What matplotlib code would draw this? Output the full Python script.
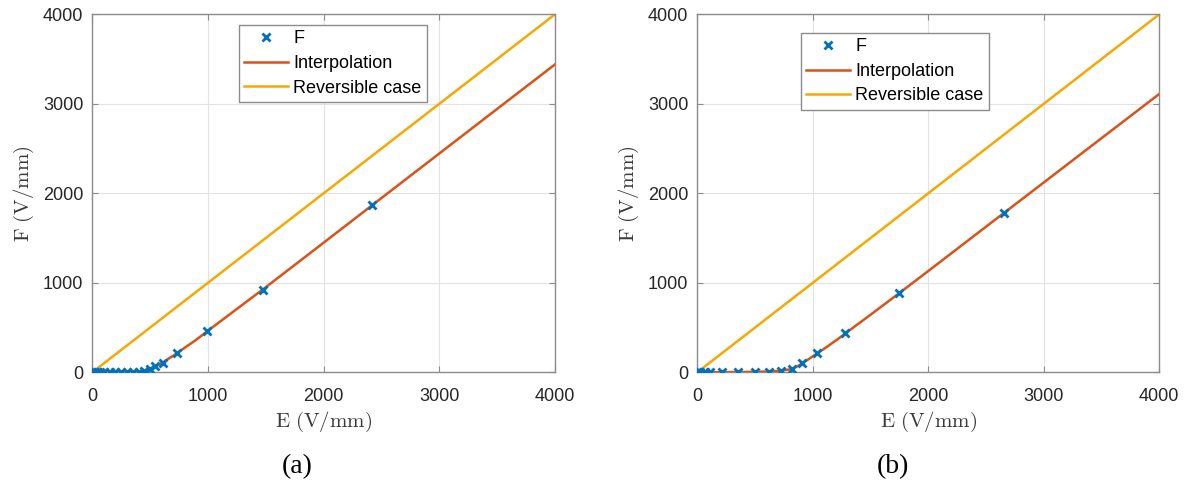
import matplotlib
matplotlib.use("Agg")
import matplotlib.pyplot as plt

plt.rcParams['mathtext.fontset'] = 'cm'
plt.rcParams['font.family'] = ['Liberation Sans', 'DejaVu Sans']

# ---- data: panel (a) ----
E_a = [0, 20, 40, 70, 100, 150, 200, 250, 300, 350, 400, 450, 500, 540, 607, 736, 991, 1474, 2422]
F_a = [0, 0, 0, 0, 0, 0, 0, 0, 0, 2, 5, 20, 40, 65, 108, 220, 456, 925, 1869]
Ei_a = [0, 200, 400, 450, 500, 550, 600, 650, 700, 750, 800, 900, 1000, 1500, 2000, 2500, 3000, 3500, 4000]
Fi_a = [0, 0, 3, 15, 40, 70, 103, 145, 185, 230, 275, 365, 465, 951, 1448, 1947, 2445, 2943, 3440]

# ---- data: panel (b) ----
E_b = [0, 20, 66, 109, 216, 356, 497, 618, 728, 822, 909, 1037, 1282, 1747, 2652]
F_b = [0, 0, 0, 0, 0, 0, 2, 5, 14, 40, 100, 212, 436, 883, 1777]
Ei_b = [0, 200, 400, 600, 700, 800, 850, 900, 950, 1000, 1100, 1200, 1300, 1500, 1750, 2000, 2500, 3000, 3500, 4000]
Fi_b = [0, 1, 3, 8, 15, 32, 55, 92, 135, 178, 265, 355, 452, 643, 886, 1132, 1627, 2121, 2616, 3110]

E_rev = [0, 4000]
F_rev = [0, 4000]

ticks = [0, 1000, 2000, 3000, 4000]
tick_labels = ['0', '1000', '2000', '3000', '4000']
captions = ['(a)', '(b)']

C_BLUE = '#0072BD'
C_RED = '#D95319'
C_YEL = '#F7A805'

fig = plt.figure(figsize=(11.94, 4.87), dpi=100)
W, H = 1194, 487
boxes = [(92.3, 555.0), (697.3, 1159.3)]
top_px, bot_px = 14.3, 372.3
legend_anchor = [(0.317, 0.970), (0.2245, 0.948)]
caption_x = [297, 893]

panels = [(E_a, F_a, Ei_a, Fi_a), (E_b, F_b, Ei_b, Fi_b)]

for i, ((x0, x1), (E, F, Ei, Fi)) in enumerate(zip(boxes, panels)):
    ax = fig.add_axes([x0 / W, (H - bot_px) / H, (x1 - x0) / W, (bot_px - top_px) / H])
    ax.plot(E, F, linestyle='none', marker='x', color=C_BLUE, markersize=5.5,
            markeredgewidth=2, label='F', zorder=4)
    ax.plot(Ei, Fi, color=C_RED, lw=1.8, label='Interpolation', zorder=3)
    ax.plot(E_rev, F_rev, color=C_YEL, lw=1.8, label='Reversible case', zorder=2)
    ax.set_xlim(0, 4000)
    ax.set_ylim(0, 4000)
    ax.set_xticks(ticks)
    ax.set_xticklabels(tick_labels)
    ax.set_yticks(ticks)
    ax.set_yticklabels(tick_labels)
    ax.grid(True, color='#e3e3e3', lw=0.8)
    ax.set_axisbelow(True)
    for s in ax.spines.values():
        s.set_color('#8c8c8c')
        s.set_linewidth(1.0)
    ax.tick_params(direction='in', top=True, right=True, length=4, width=0.8,
                   color='#8c8c8c', labelsize=13, labelcolor='#262626')
    ax.tick_params(axis='x', pad=11)
    ax.tick_params(axis='y', pad=6.5)
    ax.set_xlabel(r'$\mathrm{E\ (V/mm)}$', fontsize=15, color='#3a3a3a', labelpad=4)
    ax.set_ylabel(r'$\mathrm{F\ (V/mm)}$', fontsize=15, color='#3a3a3a', labelpad=5)
    leg = ax.legend(loc='upper left', bbox_to_anchor=legend_anchor[i], borderaxespad=0,
                    fontsize=13, fancybox=False, framealpha=1, edgecolor='#8c8c8c',
                    handlelength=2.4, handletextpad=0.3, labelspacing=0.42,
                    borderpad=0.3)
    leg.get_frame().set_linewidth(1.0)
    fig.text(caption_x[i] / W, 1 - 467 / H, captions[i], ha='center', va='center',
             fontsize=20, family=['Liberation Serif', 'DejaVu Serif'], color='black')

fig.savefig('out.png', dpi=100)
